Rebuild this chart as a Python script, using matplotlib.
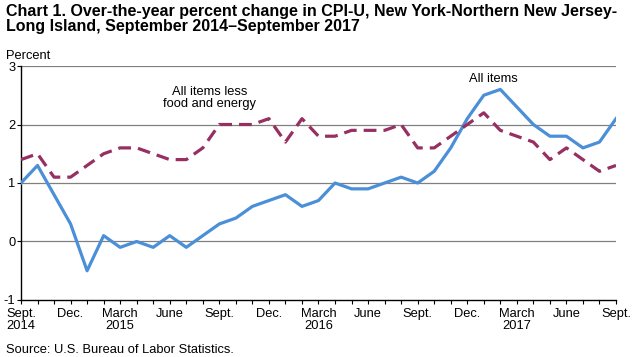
import matplotlib
matplotlib.use("Agg")
import matplotlib.pyplot as plt
import numpy as np

plt.rcParams['font.family'] = ['Liberation Sans', 'DejaVu Sans']

months = np.arange(37)  # Sept 2014 .. Sept 2017
all_items = [1.0, 1.3, 0.8, 0.3, -0.5, 0.1, -0.1, 0.0, -0.1, 0.1, -0.1, 0.1,
             0.3, 0.4, 0.6, 0.7, 0.8, 0.6, 0.7, 1.0, 0.9, 0.9, 1.0, 1.1,
             1.0, 1.2, 1.6, 2.1, 2.5, 2.6, 2.3, 2.0, 1.8, 1.8, 1.6, 1.7, 2.1]
core = [1.4, 1.5, 1.1, 1.1, 1.3, 1.5, 1.6, 1.6, 1.5, 1.4, 1.4, 1.6,
        2.0, 2.0, 2.0, 2.1, 1.7, 2.1, 1.8, 1.8, 1.9, 1.9, 1.9, 2.0,
        1.6, 1.6, 1.8, 2.0, 2.2, 1.9, 1.8, 1.7, 1.4, 1.6, 1.4, 1.2, 1.3]
tick_pos = [0, 3, 6, 9, 12, 15, 18, 21, 24, 27, 30, 33, 36]
tick_labels = ["Sept.\n2014", "Dec.", "March\n2015", "June", "Sept.", "Dec.",
               "March\n2016", "June", "Sept.", "Dec.", "March\n2017", "June", "Sept."]
y_ticks = [-1, 0, 1, 2, 3]

fs = 9.3

fig = plt.figure(figsize=(6.32, 3.57), dpi=100)
ax = fig.add_axes([0.0332, 0.1597, 0.9415, 0.6554])

for y in [0, 1, 2, 3]:
    ax.axhline(y, color='#808080', lw=0.9, zorder=1)

ax.plot(months, all_items, color='#4a8fd8', lw=2.3, zorder=3)
ax.plot(months, core, color='#962f62', lw=2.3, dashes=(4, 2.2), zorder=3)

ax.set_xlim(0, 36)
ax.set_ylim(-1, 3)
ax.set_xticks(months, minor=True)
ax.set_xticks(tick_pos)
ax.set_xticklabels(tick_labels, fontsize=fs, linespacing=0.95)
ax.set_yticks(y_ticks)
ax.set_yticklabels([str(v) for v in y_ticks], fontsize=fs)
ax.tick_params(axis='x', which='both', direction='out', length=3, width=0.8, pad=3)
ax.tick_params(axis='y', direction='out', length=3, width=0.8, pad=1)

for s in ['top', 'right']:
    ax.spines[s].set_visible(False)
for s in ['left', 'bottom']:
    ax.spines[s].set_color('black')
    ax.spines[s].set_linewidth(1.0)

ax.text(11.4, 2.46, "All items less\nfood and energy", ha='center', va='center',
        fontsize=fs, linespacing=1.0)
ax.text(28.6, 2.78, "All items", ha='center', va='center', fontsize=fs)

fig.text(0.009, 0.988, "Chart 1. Over-the-year percent change in CPI-U, New York-Northern New Jersey-\n"
         "Long Island, September 2014\u2013September 2017",
         ha='left', va='top', fontsize=11.5, fontweight='bold', linespacing=1.0)
fig.text(0.009, 0.843, "Percent", ha='left', va='center', fontsize=fs)
fig.text(0.009, 0.004, "Source: U.S. Bureau of Labor Statistics.", ha='left', va='bottom', fontsize=fs)

fig.savefig("out.png", dpi=100)
